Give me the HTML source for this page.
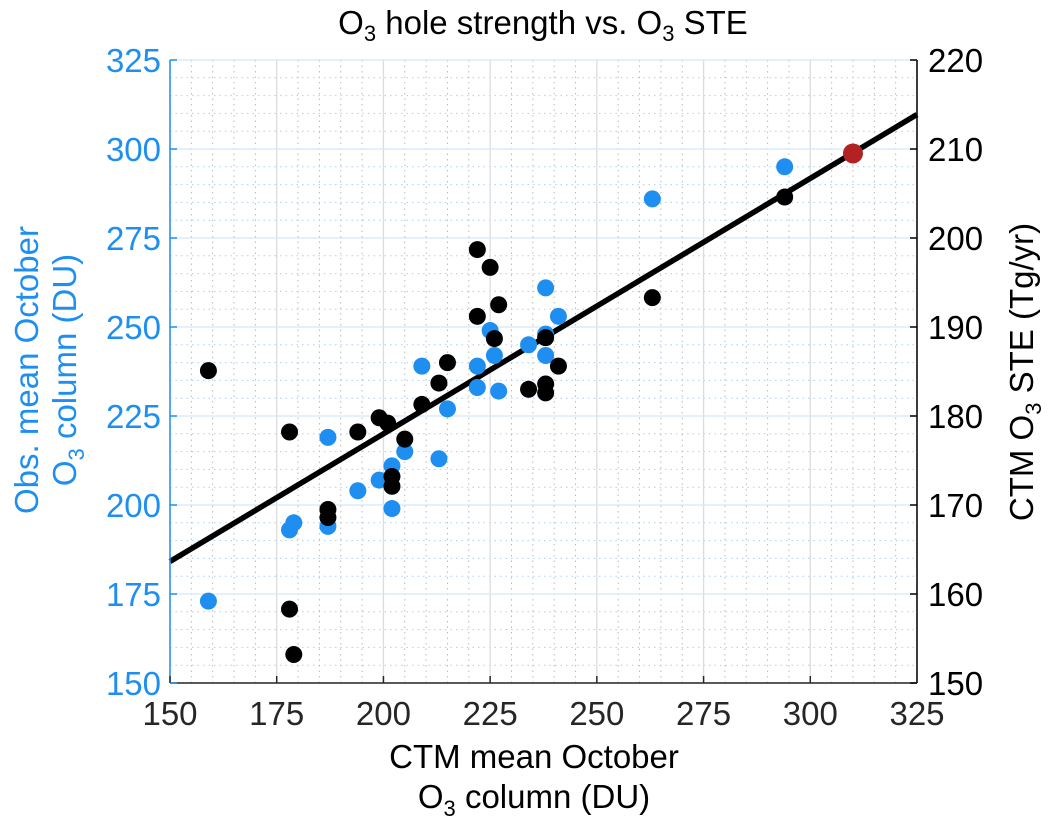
<!DOCTYPE html>
<html><head><meta charset="utf-8"><style>
html,body{margin:0;padding:0;background:#fff;}
svg{display:block;font-family:"Liberation Sans",Arial,sans-serif;}
</style></head><body>
<svg id="chart" width="1048" height="834" viewBox="0 0 1048 834" xmlns="http://www.w3.org/2000/svg">
<g id="grid"></g>
<g id="marks"></g>
<g id="axes"></g>
<text x="543" y="34" text-anchor="middle" font-size="33" fill="#000">O<tspan font-size="22" dy="7">3</tspan><tspan dy="-7"> hole strength vs. O</tspan><tspan font-size="22" dy="7">3</tspan><tspan dy="-7"> STE</tspan></text>
<text x="534" y="768" text-anchor="middle" font-size="33" fill="#000">CTM mean October</text>
<text x="534" y="808" text-anchor="middle" font-size="33" fill="#000">O<tspan font-size="22" dy="8">3</tspan><tspan dy="-8"> column (DU)</tspan></text>
<g transform="translate(38,370) rotate(-90)">
<text x="0" y="0" text-anchor="middle" font-size="33" fill="#1e8ff0">Obs. mean October</text>
<text x="0" y="38" text-anchor="middle" font-size="33" fill="#1e8ff0">O<tspan font-size="22" dy="8">3</tspan><tspan dy="-8"> column (DU)</tspan></text>
</g>
<g transform="translate(1033,372) rotate(-90)">
<text x="0" y="0" text-anchor="middle" font-size="33" fill="#000">CTM O<tspan font-size="22" dy="8">3</tspan><tspan dy="-8"> STE (Tg/yr)</tspan></text>
</g>
</svg>
<script>
const xTicks=[150,175,200,225,250,275,300,325];
const yLeftTicks=[150,175,200,225,250,275,300,325];
const yRightTicks=[150,160,170,180,190,200,210,220];
const blueX=[159,178,179,187,187,194,199,202,202,205,209,213,215,222,222,225,226,227,234,238,238,241,238,263,294];
const blueY=[173,193,195,219,194,204,207,211,199,215,239,213,227,239,233,249,242,232,245,248,242,253,261,286,295];
const blackX=[159,178,178,179,187,187,194,199,201,205,202,202,209,213,215,222,227,226,234,238,238,238,241,222,225,263,294];
const blackY=[185.1,178.2,158.3,153.2,169.5,168.6,178.2,179.8,179.2,177.4,173.2,172.1,181.3,183.7,186.0,191.2,192.5,188.7,183.0,188.8,183.6,182.6,185.6,198.7,196.7,193.3,204.6];
const redX=[310];
const redY=[209.5];
const fitSlope=[0.287];
const fitIntercept=[120.6];

const X0=170,X1=917,Y0=683,Y1=60;
const sx=v=>X0+(v-150)/(325-150)*(X1-X0);
const syL=v=>Y0-(v-150)/(325-150)*(Y0-Y1);
const syR=v=>Y0-(v-150)/(220-150)*(Y0-Y1);
const NS='http://www.w3.org/2000/svg';
function mk(tag,attrs,parent){const e=document.createElementNS(NS,tag);for(const k in attrs)e.setAttribute(k,attrs[k]);parent.appendChild(e);return e;}
const grid=document.getElementById('grid'),marks=document.getElementById('marks'),axes=document.getElementById('axes');
for(let v=150;v<=325;v+=5){
  if(v%25===0)continue;
  const l=mk('line',{x1:sx(v),x2:sx(v),y1:Y1,y2:Y0,stroke:'#bbbbbb','stroke-width':1,'stroke-dasharray':'1.5,4'},grid);
  
  
  const h=mk('line',{x1:X0,x2:X1,y1:syL(v),y2:syL(v),stroke:'#a9d0f5','stroke-width':1,'stroke-dasharray':'1.5,4'},grid);
  
  
}
xTicks.forEach(v=>{
  const l=mk('line',{x1:sx(v),x2:sx(v),y1:Y1,y2:Y0,stroke:'#dcdcdc','stroke-width':1.3},grid);
  
  
});
yLeftTicks.forEach(v=>{
  const l=mk('line',{x1:X0,x2:X1,y1:syL(v),y2:syL(v),stroke:'#d4e8fb','stroke-width':1.3},grid);
  
  
});
const fl=mk('line',{x1:sx(150),y1:syR(fitIntercept[0]+fitSlope[0]*150),x2:sx(325),y2:syR(fitIntercept[0]+fitSlope[0]*325),stroke:'#000','stroke-width':5.5},marks);


blueX.forEach((x,i)=>{
  const c=mk('circle',{cx:sx(x),cy:syL(blueY[i]),r:8.5,fill:'#1e8ff0'},marks);
  
  
});
blackX.forEach((x,i)=>{
  const c=mk('circle',{cx:sx(x),cy:syR(blackY[i]),r:8.5,fill:'#000'},marks);
  
  
});
redX.forEach((x,i)=>{
  const c=mk('circle',{cx:sx(x),cy:syR(redY[i]),r:10,fill:'#b22222'},marks);
  
  
});
let a=mk('line',{x1:X0,x2:X0,y1:Y1,y2:Y0,stroke:'#1e8ff0','stroke-width':1.5},axes);


a=mk('line',{x1:X1,x2:X1,y1:Y1,y2:Y0,stroke:'#000','stroke-width':1.5},axes);


a=mk('line',{x1:X0,x2:X1,y1:Y0,y2:Y0,stroke:'#262626','stroke-width':1.5},axes);


xTicks.forEach(v=>{
  const t=mk('line',{x1:sx(v),x2:sx(v),y1:Y0,y2:Y0-7,stroke:'#262626','stroke-width':1.5},axes);
  
  
  const tx=mk('text',{x:sx(v),y:Y0+42,'text-anchor':'middle','font-size':33,fill:'#262626'},axes);
  tx.textContent=v;
  
  
});
yLeftTicks.forEach(v=>{
  const t=mk('line',{x1:X0,x2:X0+7,y1:syL(v),y2:syL(v),stroke:'#1e8ff0','stroke-width':1.5},axes);
  
  
  const tx=mk('text',{x:X0-9,y:syL(v)+12,'text-anchor':'end','font-size':33,fill:'#1e8ff0'},axes);
  tx.textContent=v;
  
  
});
yRightTicks.forEach(v=>{
  const t=mk('line',{x1:X1,x2:X1-7,y1:syR(v),y2:syR(v),stroke:'#000','stroke-width':1.5},axes);
  
  
  const tx=mk('text',{x:X1+11,y:syR(v)+12,'text-anchor':'start','font-size':33,fill:'#000'},axes);
  tx.textContent=v;
  
  
});
</script>
</body></html>
